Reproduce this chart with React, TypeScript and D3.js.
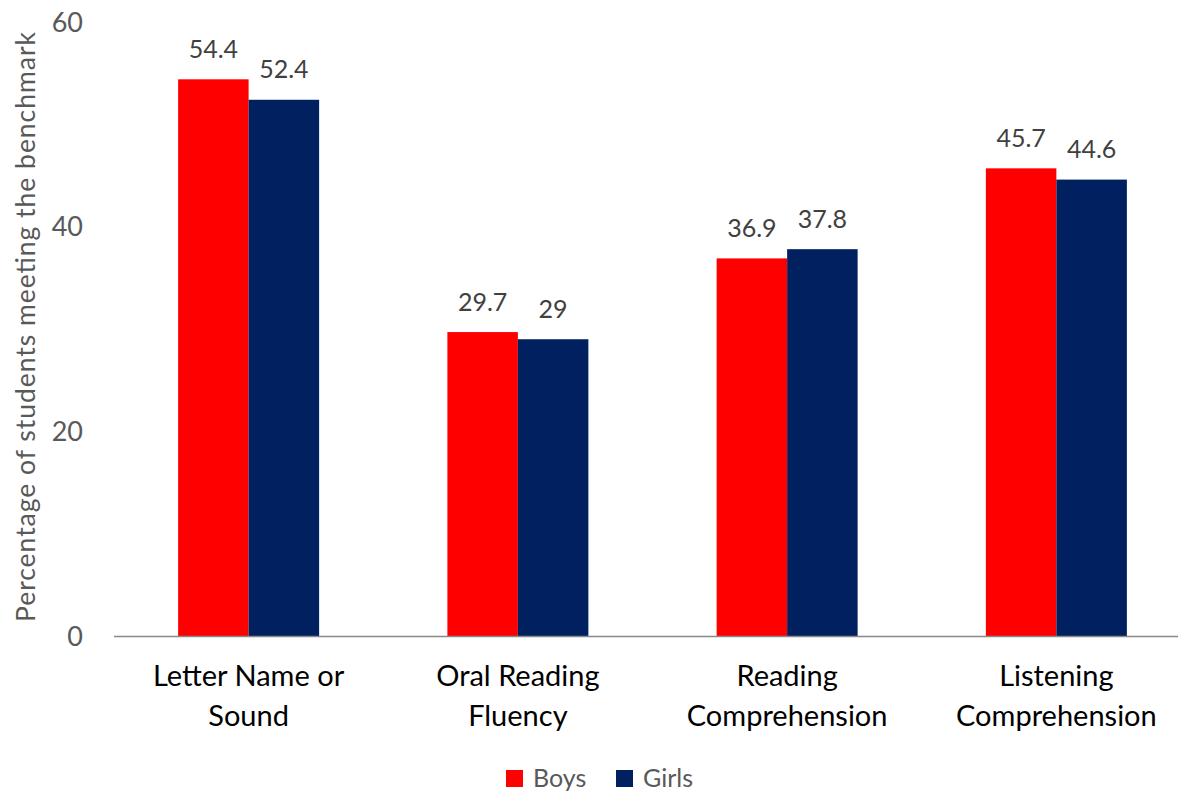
import React from "react";
import * as d3 from "d3";

const categories: string[][] = [
  ["Letter Name or", "Sound"],
  ["Oral Reading", "Fluency"],
  ["Reading", "Comprehension"],
  ["Listening", "Comprehension"],
];
const seriesNames = ["Boys", "Girls"];
const boys = [54.4, 29.7, 36.9, 45.7];
const girls = [52.4, 29, 37.8, 44.6];
const seriesColors = ["#ff0000", "#002060"];
const yTicks = [0, 20, 40, 60];

const W = 1186;
const H = 799;
const FONT = "Lato, 'Open Sans', sans-serif";

export default function App() {
  const x0 = 114;
  const x1 = 1191;
  const yBase = 636;
  const yTop = 22;

  const keys = categories.map((_, i) => String(i));
  const xBand = d3.scaleBand<string>().domain(keys).range([x0, x1]).paddingInner(0).paddingOuter(0);
  const bw = 70.5;
  const y = d3.scaleLinear().domain([0, 60]).range([yBase, yTop]);
  const series = [boys, girls];

  return (
    <div style={{ margin: -8 }}>
      <svg width={W} height={H} style={{ display: "block", background: "#fff" }} fontFamily={FONT}>
        {/* y-axis tick labels */}
        {yTicks.map((t) => (
          <text key={t} x={83} y={y(t)} dy="0.36em" textAnchor="end" fontSize={27} fill="#595959">
            {t}
          </text>
        ))}
        {/* y-axis title */}
        <text
          transform={`translate(35,327) rotate(-90)`}
          textAnchor="middle"
          fontSize={26.5}
          textLength={590}
          lengthAdjust="spacing"
          fill="#595959"
        >
          Percentage of students meeting the benchmark
        </text>

        {/* bars with value labels */}
        {keys.map((k, i) => {
          const cx = (xBand(k) as number) + xBand.bandwidth() / 2;
          return (
            <g key={k}>
              {series.map((vals, s) => {
                const bx = cx - bw + s * bw;
                return (
                  <g key={s}>
                    <rect x={bx} y={y(vals[i])} width={bw} height={yBase - y(vals[i])} fill={seriesColors[s]} />
                    <text x={bx + bw / 2} y={y(vals[i]) - 21.5} textAnchor="middle" fontSize={25} fill="#404040">
                      {vals[i]}
                    </text>
                  </g>
                );
              })}
              {categories[i].map((line, j) => (
                <text key={j} x={cx} y={686 + j * 40} textAnchor="middle" fontSize={29} fill="#000">
                  {line}
                </text>
              ))}
            </g>
          );
        })}

        {/* baseline */}
        <line x1={x0} x2={W} y1={yBase + 0.5} y2={yBase + 0.5} stroke="#898989" strokeWidth={1.5} />

        {/* legend */}
        {seriesNames.map((name, s) => {
          const lx = [506, 616][s];
          return (
            <g key={name}>
              <rect x={lx} y={770} width={17} height={17} fill={seriesColors[s]} />
              <text x={lx + 27} y={787} fontSize={25} fill="#595959">
                {name}
              </text>
            </g>
          );
        })}
      </svg>
    </div>
  );
}
